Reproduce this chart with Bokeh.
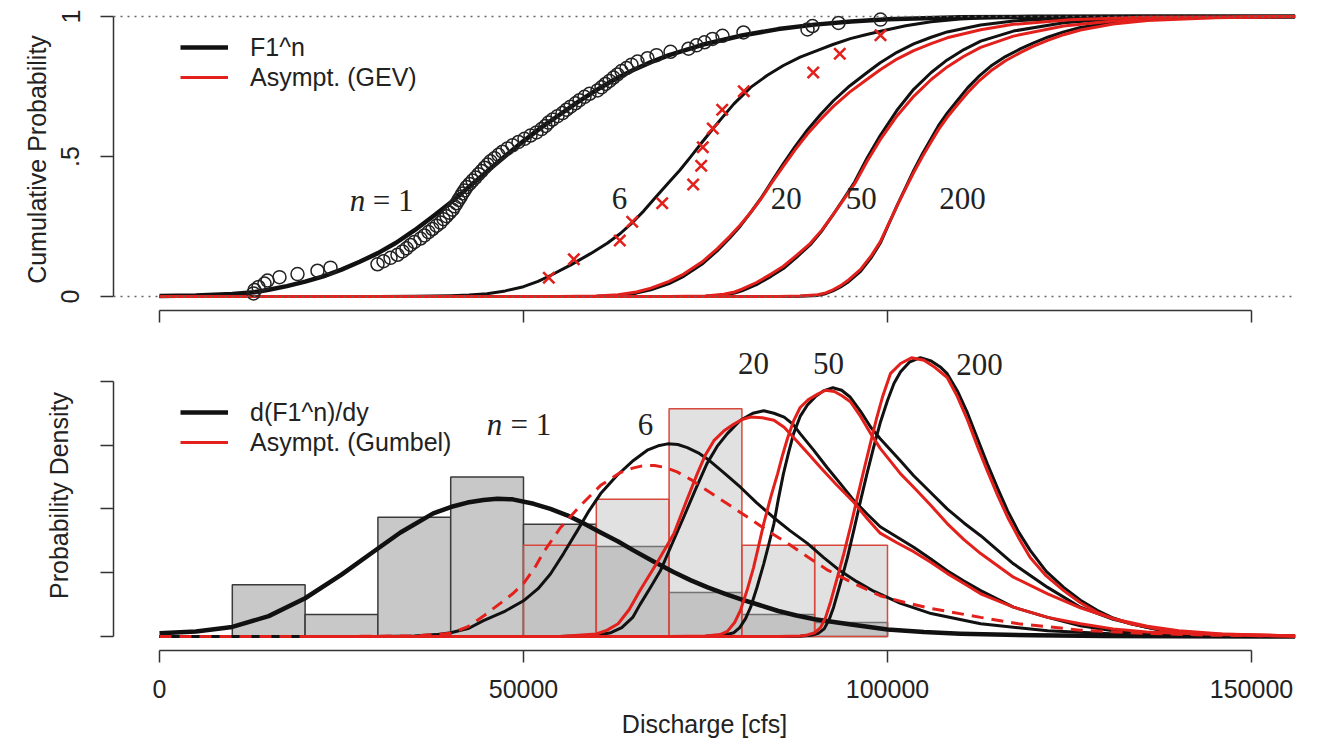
from bokeh.plotting import figure
from bokeh.layouts import column
from bokeh.models import Range1d, FixedTicker, Span, Legend, LegendItem
from bokeh.core.properties import value
from bokeh.embed import file_html
from bokeh.resources import INLINE

# ---------------- data: top panel (cumulative probability) ----------------
cdf1_x = [0, 5000, 10000, 13000, 15000, 17500, 20000, 22500, 25000, 27500, 30000, 32500, 35000, 37500,
          40000, 42500, 45000, 47500, 50000, 52500, 55000, 57500, 60000, 62500, 65000, 67500, 70000,
          75000, 80000, 85000, 90000, 95000, 100000, 110000, 120000, 135000, 156000]
cdf1_y = [0.002, 0.004, 0.009, 0.015, 0.024, 0.037, 0.053, 0.072, 0.096, 0.124, 0.155, 0.192, 0.236, 0.285,
          0.336, 0.391, 0.447, 0.502, 0.555, 0.605, 0.65, 0.695, 0.737, 0.775, 0.808, 0.837, 0.862,
          0.902, 0.932, 0.955, 0.971, 0.982, 0.99, 0.997, 0.999, 1.0, 1.0]

cdf6_x = [0, 30000, 35000, 40000, 42500, 45000, 47500, 50000, 52000, 53700, 56500, 59200, 61500, 63300,
          65000, 66500, 68000, 69800, 71500, 72900, 74500, 76100, 77500, 78900, 81200, 83500, 85700,
          88000, 90400, 92500, 94900, 97000, 99500, 102500, 106000, 110000, 113000, 120000, 130000, 156000]
cdf6_y = [0, 0, 0.001, 0.003, 0.005, 0.01, 0.02, 0.035, 0.054, 0.075, 0.113, 0.153, 0.19, 0.225,
          0.265, 0.305, 0.35, 0.403, 0.452, 0.497, 0.55, 0.602, 0.645, 0.688, 0.747, 0.79, 0.825,
          0.855, 0.879, 0.9, 0.921, 0.935, 0.95, 0.967, 0.981, 0.991, 0.995, 0.999, 1.0, 1.0]

cdf20_x = [0, 55000, 60000, 63000, 65500, 67500, 70000, 72000, 74500, 76600, 78300, 79800, 81200, 82600,
           84200, 85700, 87300, 89000, 90800, 92600, 94800, 97200, 99000, 101300, 103600, 106000, 108200,
           112800, 117300, 125000, 135000, 156000]
cdf20_y = [0, 0, 0.001, 0.004, 0.012, 0.024, 0.046, 0.072, 0.115, 0.163, 0.208, 0.252, 0.3, 0.35,
           0.415, 0.475, 0.535, 0.595, 0.65, 0.7, 0.752, 0.8, 0.835, 0.872, 0.902, 0.926, 0.945,
           0.97, 0.984, 0.995, 0.999, 1.0]
gev20_y = [0, 0, 0.002, 0.006, 0.016, 0.03, 0.054, 0.08, 0.123, 0.17, 0.214, 0.256, 0.3, 0.348,
           0.41, 0.466, 0.524, 0.58, 0.632, 0.68, 0.73, 0.776, 0.81, 0.848, 0.878, 0.903, 0.924,
           0.953, 0.972, 0.988, 0.997, 1.0]

cdf50_x = [0, 70000, 75000, 77500, 79000, 80000, 82000, 84000, 85700, 87500, 89400, 91000, 92600, 94000, 95500,
           97200, 99000, 101300, 103600, 106000, 108200, 110500, 112800, 117300, 124200, 131000, 140000, 156000]
cdf50_y = [0, 0, 0.001, 0.005, 0.012, 0.02, 0.042, 0.072, 0.1, 0.14, 0.185, 0.235, 0.295, 0.35, 0.41,
           0.495, 0.575, 0.665, 0.74, 0.8, 0.845, 0.882, 0.912, 0.948, 0.978, 0.991, 0.998, 1.0]
gev50_y = [0, 0, 0.002, 0.008, 0.016, 0.026, 0.05, 0.08, 0.108, 0.147, 0.19, 0.238, 0.295, 0.347, 0.403,
           0.483, 0.56, 0.645, 0.715, 0.775, 0.82, 0.858, 0.89, 0.93, 0.966, 0.984, 0.995, 1.0]

cdf200_x = [0, 85000, 88000, 90400, 91500, 92500, 93500, 94500, 96300, 97800, 99000, 100200, 101400, 102500,
            103600, 104800, 105900, 107000, 108200, 109600, 111000, 112500, 114200, 116200, 118300, 120000,
            122000, 124200, 126500, 131000, 135700, 145000, 156000]
cdf200_y = [0, 0, 0.001, 0.004, 0.01, 0.02, 0.033, 0.05, 0.09, 0.14, 0.19, 0.26, 0.33, 0.39,
            0.45, 0.51, 0.56, 0.61, 0.655, 0.7, 0.745, 0.785, 0.823, 0.857, 0.885, 0.905,
            0.926, 0.945, 0.961, 0.98, 0.991, 0.998, 1.0]
gev200_y = [0, 0, 0.002, 0.006, 0.013, 0.024, 0.038, 0.056, 0.097, 0.147, 0.195, 0.262, 0.328, 0.386,
            0.443, 0.5, 0.548, 0.596, 0.64, 0.685, 0.728, 0.768, 0.806, 0.842, 0.872, 0.893,
            0.915, 0.935, 0.952, 0.973, 0.986, 0.996, 1.0]

# annual peaks (empirical plotting positions)
obs_x = [12912, 13049, 13599, 14423, 14835, 16484, 18956, 21703, 23489, 29945, 30769, 31731, 32692, 33379,
         33929, 34478, 35027, 35852, 36401, 36951, 37500, 38049, 38599, 39011, 39423, 39835, 40247, 40522,
         40797, 41071, 41346, 41621, 41896, 42170, 42582, 42995, 43407, 43819, 44231, 44643, 45055, 45467,
         46016, 46566, 47115, 47802, 48489, 49313, 50137, 50962, 51786, 52473, 53022, 53434, 53984, 54670,
         55357, 55907, 56456, 57143, 57692, 58379, 59066, 60165, 60714, 61264, 61813, 62363, 62912, 63462,
         64148, 64835, 65659, 67033, 68269, 70192, 72665, 73764, 74863, 75962, 77335, 80220, 89011, 89698,
         93269, 99038]
obs_p = [0.011, 0.023, 0.034, 0.046, 0.057, 0.069, 0.080, 0.092, 0.103, 0.115, 0.126, 0.138, 0.149, 0.161,
         0.172, 0.184, 0.195, 0.207, 0.218, 0.230, 0.241, 0.253, 0.264, 0.276, 0.287, 0.299, 0.310, 0.322,
         0.333, 0.345, 0.356, 0.368, 0.379, 0.391, 0.402, 0.414, 0.425, 0.437, 0.448, 0.460, 0.471, 0.483,
         0.494, 0.506, 0.517, 0.529, 0.540, 0.552, 0.563, 0.575, 0.586, 0.598, 0.609, 0.621, 0.632, 0.644,
         0.655, 0.667, 0.678, 0.690, 0.701, 0.713, 0.724, 0.736, 0.747, 0.759, 0.770, 0.782, 0.793, 0.805,
         0.816, 0.828, 0.839, 0.851, 0.862, 0.874, 0.885, 0.897, 0.908, 0.920, 0.931, 0.943, 0.954, 0.966,
         0.977, 0.989]

# 6-year block maxima
max6_x = [53480, 56913, 63228, 64930, 69051, 73310, 74409, 74629, 76003, 77294, 80261, 89800, 93448, 99038]
max6_p = [0.067, 0.133, 0.2, 0.267, 0.333, 0.4, 0.467, 0.533, 0.6, 0.667, 0.733, 0.8, 0.867, 0.933]

# ---------------- data: bottom panel (density, in 1e-5 per cfs) ----------------
hist1_edges = [10000, 20000, 30000, 40000, 50000, 60000, 70000, 80000, 90000, 100000]
hist1_dens = [0.81, 0.345, 1.87, 2.5, 1.76, 1.41, 0.69, 0.345, 0.22]
hist6_edges = [50000, 60000, 70000, 80000, 90000, 100000]
hist6_dens = [1.43, 2.15, 3.57, 1.43, 1.43]

dens1_x = [0, 5000, 10000, 15000, 20000, 25000, 30000, 33100, 37600, 40000, 42300, 44500, 46400, 48500,
           51400, 53700, 56000, 58300, 60600, 63000, 65100, 67800, 70600, 73000, 75300, 77700, 80000,
           82500, 85000, 87500, 90000, 95000, 100000, 105000, 110000, 120000, 130000, 140000, 156000]
dens1_y = [0.05, 0.08, 0.15, 0.32, 0.6, 0.97, 1.38, 1.63, 1.93, 2.03, 2.1, 2.14, 2.16, 2.15,
           2.08, 2.0, 1.9, 1.77, 1.63, 1.49, 1.35, 1.18, 1.01, 0.88, 0.77, 0.67, 0.58,
           0.49, 0.40, 0.33, 0.27, 0.19, 0.11, 0.07, 0.045, 0.02, 0.01, 0.004, 0.0]

dens6_x = [0, 30000, 35000, 38000, 40000, 42500, 44500, 47500, 50000, 52000, 53700, 55500, 57400, 59000, 60600,
           62800, 65100, 67000, 68500, 69800, 71200, 72500, 74000, 75300, 77500, 79800, 82000, 84300,
           86600, 89000, 91200, 93500, 95800, 98100, 101800, 106000, 112800, 122000, 135000, 156000]
dens6_y = [0, 0, 0.01, 0.03, 0.06, 0.13, 0.25, 0.4, 0.56, 0.75, 0.98, 1.3, 1.66, 1.97, 2.24,
           2.52, 2.76, 2.92, 2.99, 3.02, 3.01, 2.96, 2.88, 2.78, 2.57, 2.34, 2.1, 1.87,
           1.66, 1.46, 1.24, 1.03, 0.86, 0.71, 0.52, 0.36, 0.2, 0.09, 0.02, 0.0]

gum6_x = [0, 25000, 35000, 40000, 42300, 44500, 46800, 48500, 50000, 51500, 52800, 55100, 57800, 60600,
          63300, 65000, 66500, 68000, 69500, 71100, 73000, 74800, 78000, 80800, 83500, 86300, 89000,
          91800, 95400, 99000, 102500, 106000, 112800, 118000, 126500, 135000, 145000, 156000]
gum6_y = [0, 0, 0.01, 0.05, 0.15, 0.32, 0.52, 0.67, 0.83, 1.07, 1.33, 1.71, 2.05, 2.37,
          2.57, 2.64, 2.68, 2.68, 2.65, 2.58, 2.46, 2.32, 2.08, 1.87, 1.66, 1.46, 1.25,
          1.04, 0.83, 0.64, 0.53, 0.44, 0.3, 0.2, 0.1, 0.05, 0.02, 0.01]

dens20_x = [0, 55000, 60000, 62000, 63500, 65000, 66000, 67500, 68800, 70400, 72000, 73600, 75200, 76600,
            78000, 79800, 81500, 83000, 84400, 85800, 87000, 88000, 89800, 91700, 93500, 95400, 97200,
            99000, 101300, 103600, 106000, 108200, 110500, 112800, 117300, 122000, 126500, 131000, 135600,
            145000, 156000]
dens20_y = [0, 0, 0.02, 0.06, 0.14, 0.3, 0.5, 0.78, 1.03, 1.45, 1.87, 2.3, 2.71, 2.98,
            3.18, 3.39, 3.5, 3.54, 3.5, 3.44, 3.33, 3.18, 2.93, 2.65, 2.4, 2.13, 1.92,
            1.72, 1.56, 1.4, 1.21, 1.03, 0.87, 0.72, 0.46, 0.3, 0.17, 0.09, 0.05,
            0.01, 0.0]

gum20_x = [20000, 55000, 60000, 61500, 63000, 64500, 66000, 68300, 70650, 72300, 73860, 75000, 76150, 77500,
           78900, 80000, 81200, 82800, 84400, 85800, 87100, 89000, 90800, 93000, 95400, 97200, 99000,
           101300, 103600, 106000, 108200, 110500, 112800, 117300, 122000, 126500, 131000, 135600, 140000,
           150000, 156000]
gum20_y = [0, 0, 0.04, 0.1, 0.2, 0.42, 0.72, 1.15, 1.61, 2.1, 2.55, 2.85, 3.07, 3.22,
           3.33, 3.4, 3.44, 3.43, 3.39, 3.28, 3.12, 2.88, 2.65, 2.38, 2.1, 1.85, 1.62,
           1.47, 1.33, 1.16, 0.99, 0.83, 0.67, 0.46, 0.3, 0.2, 0.12, 0.07, 0.05,
           0.015, 0.005]

dens50_x = [0, 70000, 75000, 77500, 78900, 79700, 80500, 81200, 82100, 83000, 83700, 84400, 85000, 85700,
            86400, 87100, 88000, 89000, 90100, 91200, 92500, 93700, 94900, 96300, 97700, 99000, 101800,
            103600, 106000, 108200, 110500, 112800, 117300, 122000, 126500, 131000, 135700, 140200, 146000,
            156000]
dens50_y = [0, 0, 0.005, 0.02, 0.06, 0.14, 0.28, 0.46, 0.78, 1.14, 1.45, 1.77, 2.15, 2.55,
            2.88, 3.18, 3.45, 3.63, 3.76, 3.85, 3.9, 3.86, 3.75, 3.53, 3.28, 3.1, 2.75,
            2.52, 2.25, 2.0, 1.78, 1.58, 1.14, 0.77, 0.46, 0.27, 0.14, 0.06, 0.02,
            0.0]

gum50_x = [20000, 70000, 75000, 77000, 78000, 79000, 79800, 80700, 81600, 82300, 83000, 84000, 84900, 85600,
           86300, 87100, 88000, 89200, 90400, 91500, 92700, 93800, 94900, 96300, 97700, 99000, 101800,
           103600, 106000, 108200, 110500, 112800, 117300, 122000, 126500, 131000, 135700, 140000, 146000,
           156000]
gum50_y = [0, 0, 0.008, 0.03, 0.08, 0.22, 0.41, 0.72, 1.08, 1.42, 1.77, 2.2, 2.55, 2.85,
           3.12, 3.38, 3.59, 3.72, 3.8, 3.86, 3.84, 3.77, 3.68, 3.45, 3.18, 2.95, 2.55,
           2.34, 2.05, 1.77, 1.52, 1.3, 0.93, 0.67, 0.45, 0.28, 0.16, 0.09, 0.04,
           0.01]

dens200_x = [0, 85000, 88000, 89500, 90500, 91300, 92000, 92600, 93500, 94500, 95400, 96300, 97200, 98100,
             99000, 100000, 100900, 101800, 103000, 104500, 106000, 107200, 108200, 109600, 111000, 112300,
             113700, 115100, 116500, 118000, 119600, 121800, 124200, 126500, 128800, 131000, 133400, 137900,
             144500, 156000]
dens200_y = [0, 0, 0.005, 0.02, 0.05, 0.12, 0.27, 0.46, 0.82, 1.24, 1.68, 2.13, 2.56, 2.97,
             3.35, 3.7, 3.97, 4.15, 4.3, 4.37, 4.32, 4.23, 4.12, 3.85, 3.5, 3.12,
             2.71, 2.33, 1.97, 1.64, 1.35, 1.02, 0.77, 0.57, 0.41, 0.29, 0.2, 0.09,
             0.02, 0.0]

gum200_x = [20000, 85000, 88000, 89000, 90000, 90800, 91500, 92200, 93000, 94000, 95000, 95900, 96800, 97700,
            98500, 99300, 100400, 101800, 103300, 105000, 106500, 108200, 109600, 111000, 112300, 113700,
            115100, 116500, 118000, 119600, 121800, 124200, 126500, 128800, 131000, 133400, 137900, 144500,
            156000]
gum200_y = [0, 0, 0.008, 0.025, 0.06, 0.14, 0.3, 0.55, 0.88, 1.3, 1.76, 2.2, 2.63, 3.05,
            3.42, 3.75, 4.12, 4.28, 4.37, 4.33, 4.22, 4.06, 3.76, 3.39, 3.0, 2.6,
            2.22, 1.87, 1.55, 1.24, 0.95, 0.72, 0.53, 0.38, 0.28, 0.2, 0.1, 0.04,
            0.01]

# ---------------- labels ----------------
x_ticks = [0, 50000, 100000, 150000]
x_tick_labels = ["0", "50000", "100000", "150000"]
cdf_ticks = [0, 0.5, 1]
cdf_tick_labels = ["0", ".5", "1"]
dens_ticks = [0, 1, 2, 3, 4]

top_n_labels = ["6", "20", "50", "200"]
top_n_x = [63200, 86100, 96400, 110300]
top_n_y = [0.35, 0.35, 0.35, 0.35]
bot_n_labels = ["20", "50", "200"]
bot_n_x = [81600, 91900, 112640]
bot_n_y = [4.28, 4.28, 4.27]

BLACK = "#111111"
RED = "#e3211c"
AXC = "#333333"
SANS = "Liberation Sans"
SERIF = "Liberation Serif"

X_RANGE = (-6319, 156044)


def style_axes(p):
    for ax in (p.xaxis[0], p.yaxis[0]):
        ax.axis_line_color = AXC
        ax.axis_line_width = 1.5
        ax.major_tick_line_color = AXC
        ax.major_tick_line_width = 1.5
        ax.major_tick_in = 0
        ax.minor_tick_line_color = None
        ax.major_label_text_font = SANS
        ax.major_label_text_color = "#222222"
        ax.axis_label_text_font = SANS
        ax.axis_label_text_font_style = "normal"
        ax.axis_label_text_color = "#222222"
        ax.axis_label_text_font_size = "25px"
    p.grid.visible = False
    p.outline_line_color = None


def serif_text(p, x, y, t, italic=False, align="center"):
    p.text(x=x, y=y, text=t, text_font=value(SERIF), text_font_size="31px",
           text_font_style="italic" if italic else "normal",
           text_align=align, text_baseline="middle", text_color="#222222")


# ================= top panel =================
top = figure(width=1318, height=330, output_backend="svg", toolbar_location=None,
             x_range=Range1d(*X_RANGE), y_range=Range1d(-0.05, 1.0286),
             min_border_left=113, min_border_right=23, min_border_top=8, min_border_bottom=20)
style_axes(top)
top.xaxis.ticker = FixedTicker(ticks=x_ticks)
top.xaxis.bounds = (0, 150000)
top.xaxis.major_tick_out = 12
top.xaxis.major_label_overrides = {t: "" for t in x_ticks}
top.xaxis.major_label_text_font_size = "1px"
top.xaxis.major_label_standoff = 0
top.yaxis.ticker = FixedTicker(ticks=cdf_ticks)
top.yaxis.bounds = (0, 1)
top.yaxis.major_tick_out = 13
top.yaxis.major_label_overrides = dict(zip(cdf_ticks, cdf_tick_labels))
top.yaxis.major_label_orientation = "vertical"
top.yaxis.major_label_text_font_size = "25px"
top.yaxis.major_label_standoff = 21
top.yaxis.axis_label = "Cumulative Probability"
top.yaxis.axis_label_standoff = 8

for lvl in cdf_ticks[::2]:
    top.add_layout(Span(location=lvl, dimension="width", line_color="#666666",
                        line_width=1.5, line_dash="2 5"))

lw = 3
r_b1 = top.line(cdf1_x, cdf1_y, color=BLACK, line_width=4.5, line_join="round")
top.line(cdf6_x, cdf6_y, color=BLACK, line_width=lw, line_join="round")
top.line(cdf20_x, cdf20_y, color=BLACK, line_width=lw, line_join="round")
top.line(cdf50_x, cdf50_y, color=BLACK, line_width=lw, line_join="round")
top.line(cdf200_x, cdf200_y, color=BLACK, line_width=lw, line_join="round")
r_r20 = top.line(cdf20_x, gev20_y, color=RED, line_width=lw, line_join="round")
top.line(cdf50_x, gev50_y, color=RED, line_width=lw, line_join="round")
top.line(cdf200_x, gev200_y, color=RED, line_width=lw, line_join="round")

top.scatter(obs_x, obs_p, marker="circle", size=13, fill_color=None, line_color="#222222", line_width=1.5)
top.scatter(max6_x, max6_p, marker="x", size=16, line_color=RED, line_width=2.6)

serif_text(top, [27200], [0.343], ["n"], italic=True)
serif_text(top, [29300], [0.343], ["= 1"], align="left")
serif_text(top, top_n_x, top_n_y, top_n_labels)

leg_top = Legend(items=[LegendItem(label="F1^n", renderers=[r_b1]),
                        LegendItem(label="Asympt. (GEV)", renderers=[r_r20])],
                 location=(67, 218))

# ================= bottom panel =================
bot = figure(width=1318, height=414, output_backend="svg", toolbar_location=None,
             x_range=Range1d(*X_RANGE), y_range=Range1d(-0.219, 4.64),
             min_border_left=113, min_border_right=23, min_border_top=10, min_border_bottom=94)
style_axes(bot)
bot.xaxis.ticker = FixedTicker(ticks=x_ticks)
bot.xaxis.bounds = (0, 150000)
bot.xaxis.major_tick_out = 12
bot.xaxis.major_label_overrides = dict(zip(x_ticks, x_tick_labels))
bot.xaxis.major_label_text_font_size = "25px"
bot.xaxis.major_label_standoff = 17
bot.xaxis.axis_label = "Discharge [cfs]"
bot.xaxis.axis_label_standoff = 9
bot.yaxis.ticker = FixedTicker(ticks=dens_ticks)
bot.yaxis.bounds = (0, 4)
bot.yaxis.major_tick_out = 13
bot.yaxis.major_label_overrides = {t: "" for t in dens_ticks}
bot.yaxis.major_label_text_font_size = "1px"
bot.yaxis.major_label_standoff = 0
bot.yaxis.axis_label = "Probability Density"
bot.yaxis.axis_label_standoff = 28

bot.quad(left=hist1_edges[:-1], right=hist1_edges[1:], bottom=0, top=hist1_dens,
         fill_color="#c8c8c8", line_color="#3a3a3a", line_width=1.5)
bot.quad(left=hist6_edges[:-1], right=hist6_edges[1:], bottom=0, top=hist6_dens,
         fill_color="#bdbdbd", fill_alpha=0.45, line_color="#d8483c", line_width=1.5)

r_d1 = bot.line(dens1_x, dens1_y, color=BLACK, line_width=4.5, line_join="round")
bot.line(dens6_x, dens6_y, color=BLACK, line_width=lw, line_join="round")
bot.line(dens20_x, dens20_y, color=BLACK, line_width=lw, line_join="round")
bot.line(dens50_x, dens50_y, color=BLACK, line_width=lw, line_join="round")
bot.line(dens200_x, dens200_y, color=BLACK, line_width=lw, line_join="round")
bot.line(gum6_x, gum6_y, color=RED, line_width=lw, line_dash="12 8")
r_g20 = bot.line(gum20_x, gum20_y, color=RED, line_width=lw, line_join="round")
bot.line(gum50_x, gum50_y, color=RED, line_width=lw, line_join="round")
bot.line(gum200_x, gum200_y, color=RED, line_width=lw, line_join="round")

serif_text(bot, [46000], [3.32], ["n"], italic=True)
serif_text(bot, [48200], [3.32], ["= 1"], align="left")
serif_text(bot, [66760], [3.32], ["6"])
serif_text(bot, bot_n_x, bot_n_y, bot_n_labels)

leg_bot = Legend(items=[LegendItem(label="d(F1^n)/dy", renderers=[r_d1]),
                        LegendItem(label="Asympt. (Gumbel)", renderers=[r_g20])],
                 location=(67, 193))

for lg in (leg_top, leg_bot):
    lg.glyph_width = 48
    lg.glyph_height = 30
    lg.label_height = 30
    lg.label_standoff = 22
    lg.padding = 0
    lg.spacing = 0
    lg.margin = 0
    lg.border_line_color = None
    lg.background_fill_alpha = 0
    lg.label_text_font = SANS
    lg.label_text_font_size = "25px"
    lg.label_text_color = "#222222"
top.add_layout(leg_top)
bot.add_layout(leg_bot)

layout = column(top, bot, spacing=0)
open("out.html", "w").write(file_html(layout, INLINE))
